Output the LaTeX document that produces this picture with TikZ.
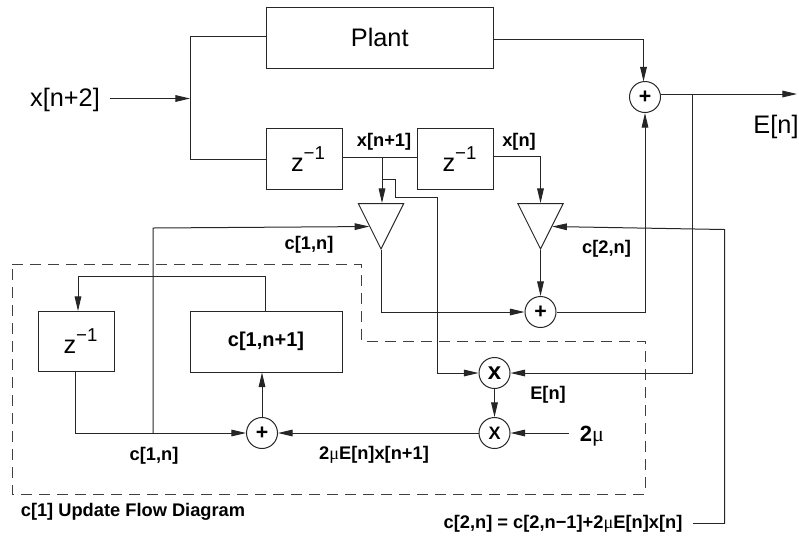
\documentclass[tikz,border=0pt]{standalone}
\usepackage{fontspec}
\setmainfont{Liberation Sans}
\newfontfamily\symf{Liberation Serif}
\usetikzlibrary{arrows.meta,shapes.geometric,calc}
\newcommand{\zinv}{{\fontsize{19}{20}\selectfont z\raisebox{9pt}{\fontsize{14}{15}\selectfont −1}}}
\newcommand{\mumu}{{\symf\fontseries{m}\selectfont μ}}
\tikzset{
  wire/.style={line width=0.75pt,draw=black!85},
  arr/.style={wire,-{Triangle[length=11pt,width=5pt]}},
  block/.style={draw=black!85,line width=0.75pt,rectangle,inner sep=0pt},
  dblock/.style={block,minimum width=57pt,minimum height=45.5pt},
  sumc/.style={draw=black!85,line width=0.75pt,circle,inner sep=0pt,minimum size=23.25pt,font=\fontsize{16}{16}\bfseries\selectfont},
  gain/.style={draw=black!85,line width=0.75pt,shape=isosceles triangle,shape border rotate=-90,isosceles triangle apex angle=53.13,isosceles triangle stretches,minimum width=34pt,minimum height=34pt,inner sep=0pt,anchor=apex},
  big/.style={font=\fontsize{19}{20}\selectfont,inner sep=0pt},
  lbl/.style={font=\fontsize{13.7}{15}\bfseries\selectfont,inner sep=0pt},
  dash box/.style={line width=0.75pt,draw=black!75,dash pattern=on 8pt off 5.5pt}
}
\begin{document}
\begin{tikzpicture}[x=0.75pt,y=-0.75pt]
\useasboundingbox (0,0) rectangle (799,537);
% dashed region
\draw[dash box] (12,264) -- (361,264) -- (361,341) -- (645,341) -- (645,494) -- (12,494) -- cycle;
% blocks
\node[block,minimum width=170.6pt,minimum height=45.75pt,big] (plant) at (379.75,37.5) {Plant};
\node[dblock,big] (z1) at (304,159.25) {\hspace*{6pt}\zinv};
\node[dblock,big] (z2) at (455.5,159.25) {\hspace*{6pt}\zinv};
\node[dblock,big] (z3) at (76.5,341.5) {\hspace*{6pt}\zinv};
\node[block,minimum width=114pt,minimum height=45.75pt,font=\fontsize{15}{16}\bfseries\selectfont] (c1) at (266,341.5) {c[1,n+1]};
% gains
\node[gain] (t1) at (381,250) {};
\node[gain] (t2) at (540.5,250) {};
% adders / multipliers
\node[sumc] (s1) at (645,97) {\raisebox{-2pt}{+}};
\node[sumc] (s2) at (540.5,312) {\raisebox{-2pt}{+}};
\node[sumc] (s3) at (262,433) {\raisebox{-2pt}{+}};
\node[sumc,font=\fontsize{18}{18}\bfseries\selectfont] (m1) at (494.5,373) {x};
\node[sumc,font=\fontsize{13.5}{14}\bfseries\selectfont] (m2) at (494.5,433) {X};
% labels
\node[big] (lx) at (65,100) {x[n+2]};
\node[big] (lE) at (776,127) {E[n]};
\node[lbl] (lx1) at (384,142) {x[n+1]};
\node[lbl] (lx0) at (519,142) {x[n]};
\node[lbl] (lc1) at (309,245) {c[1,n]};
\node[lbl] (lc2) at (606.5,249) {c[2,n]};
\node[lbl] (lc3) at (154,456) {c[1,n]};
\node[lbl] (lprod) at (374,455) {2\mumu E[n]x[n+1]};
\node[lbl] (lE2) at (548,395) {E[n]};
\node[inner sep=0pt,font=\fontsize{16.5}{18}\bfseries\selectfont] (lmu) at (592,436) {2\mumu};
\node[lbl] (leq) at (563,524) {c[2,n] = c[2,n−1]+2\mumu E[n]x[n]};
\node[lbl] (ltitle) at (133,512) {c[1] Update Flow Diagram};
% junction coordinates
\coordinate (jin) at (190,98.5);
\coordinate (jx) at (382,157.5);
\coordinate (jE) at (692,94);
\coordinate (jc) at (153,433);
% input
\draw[arr] (110,98.5) -- (jin);
\draw[wire] (plant.west |- 0,36) -- (190,36) -- (190,159) -- (z1.west |- 0,159);
% z chain
\draw[wire] (z1.east |- 0,157.5) -- (z2.west |- 0,157.5);
\draw[arr] (jx) -- (t1.lower side -| jx);
\draw[arr] (jx |- 0,179) -- (395,179) -- (395,197) -- (437,197) -- (437,373) -- (m1.west);
\draw[arr] (z2.east |- 0,156.5) -- (540.5,156.5) -- (t2.lower side);
% gains to adder
\draw[arr] (t2.apex) -- (s2.north);
\draw[arr] (t1.apex) -- (381,312) -- (s2.west);
\draw[arr] (s2.east) -- (645,312) -- (s1.south);
% plant to adder
\draw[arr] (plant.east |- 0,39) -- (643.5,39) -- (643.5,81.5);
\draw[arr] (s1.east |- 0,94) -- (797,94);
% error feedback
\draw[arr] (jE) -- (692,373) -- (m1.east);
\draw[arr] (m1.south) -- (m2.north);
\draw[arr] (569,433) -- (m2.east);
\draw[arr] (m2.west) -- (s3.east);
% c[1] loop
\draw[arr] (s3.north) -- (s3.north |- c1.south);
\draw[arr] (c1.north -| 265,0) -- (265,276.5) -- (78,276.5) -- (78,311);
\draw[arr] (z3.south -| 75,0) -- (75,433) -- (s3.west);
\draw[arr] (jc) -- (153,228) -- ($(t1.right corner)!0.5!(t1.apex)$);
% c[2] feedback
\draw[wire] (692.5,523.5) -- (724.5,523.5);
\draw[arr] (724.5,523.5) -- (724.5,229.5) -- ($(t2.left corner)!0.5!(t2.apex)$);
\end{tikzpicture}
\end{document}
